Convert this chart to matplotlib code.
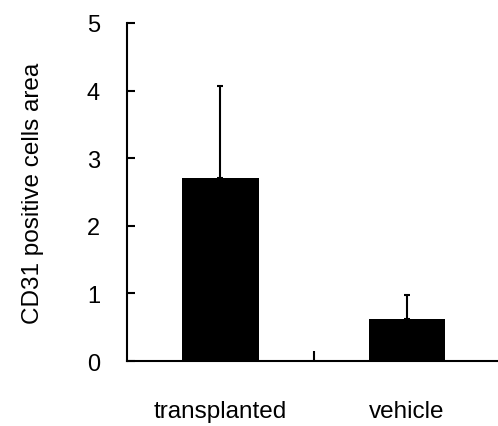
import matplotlib
matplotlib.use('Agg')
from matplotlib import pyplot as plt
import numpy as np

categories = ['transplanted', 'vehicle']
means = [2.71, 0.62]
errors = [1.36, 0.36]
yticks = [0, 1, 2, 3, 4, 5]

plt.rcParams['font.family'] = ['Liberation Sans', 'DejaVu Sans']

fig = plt.figure(figsize=(4.98, 4.27), dpi=100)
ax = fig.add_axes([0.255, 0.152, 0.75, 0.792])

x = np.arange(len(categories))
ax.bar(x, means, width=0.41, color='black', zorder=2)
ax.errorbar(x, means, yerr=[np.zeros(len(errors)), errors], fmt='none',
            ecolor='black', elinewidth=1.5, capsize=2, capthick=1.5, zorder=1)

ax.set_xlim(-0.5, 1.5)
ax.set_ylim(0, 5)
ax.set_yticks(yticks)
ax.tick_params(axis='y', direction='in', length=6, width=1.5, labelsize=17, pad=19.5)

# single tick between groups, category names as minor labels
ax.set_xticks([0.5])
ax.set_xticklabels([''])
ax.tick_params(axis='x', which='major', direction='in', length=7, width=1.5)
ax.set_xticks(x, minor=True)
ax.set_xticklabels(categories, minor=True)
ax.tick_params(axis='x', which='minor', length=0, labelsize=17.5, pad=28)

for s in ['top', 'right']:
    ax.spines[s].set_visible(False)
for s in ['left', 'bottom']:
    ax.spines[s].set_linewidth(1.5)
ax.spines['left'].set_bounds(0, 5)

ax.set_ylabel('CD31 positive cells area', fontsize=17.5, labelpad=31)

plt.savefig('out.png', dpi=100)
